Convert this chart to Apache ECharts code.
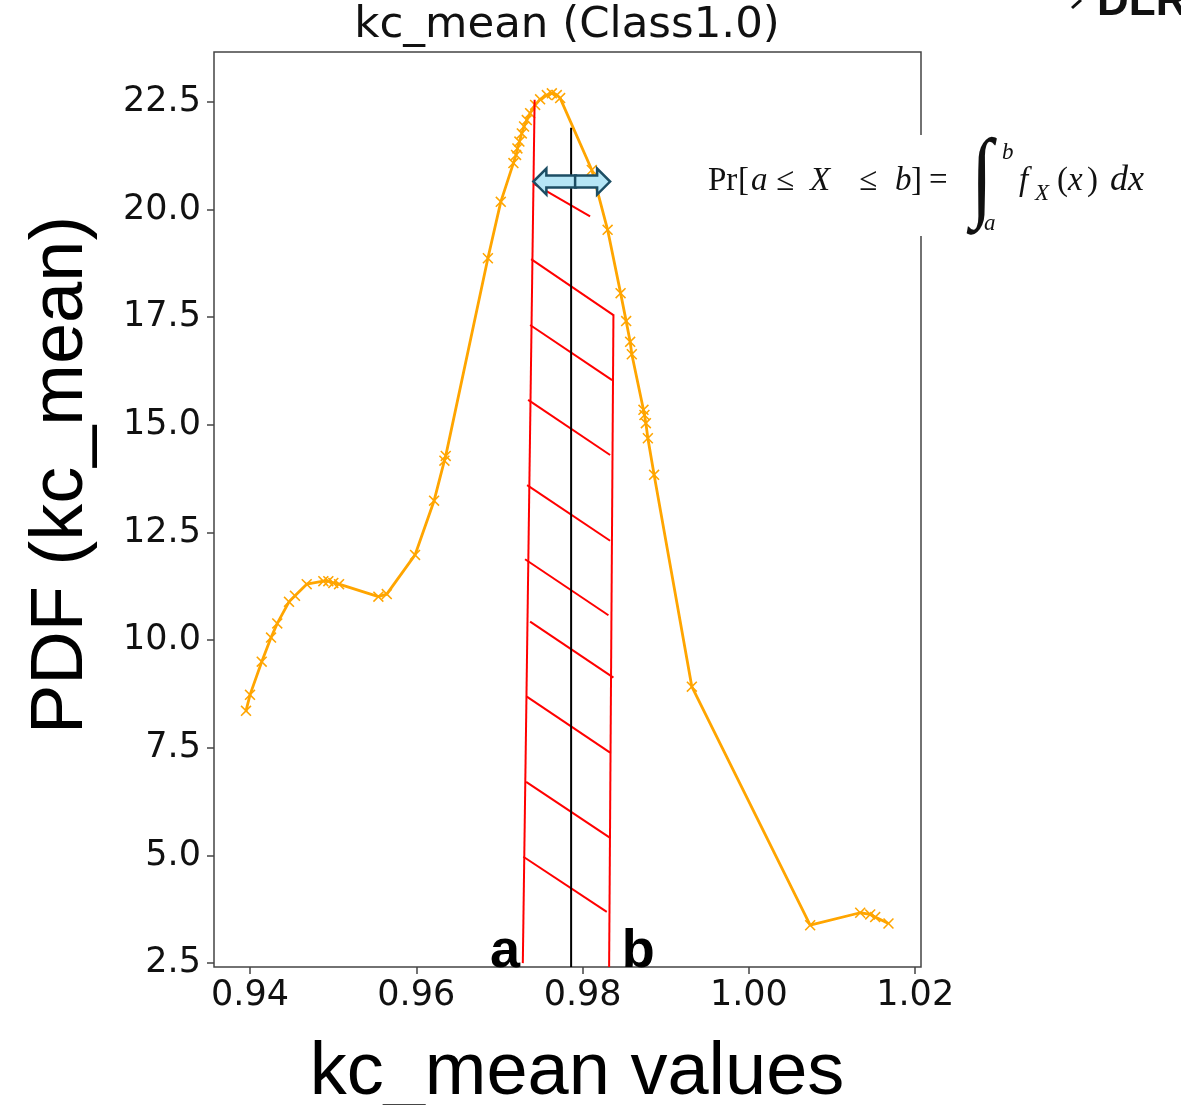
<!DOCTYPE html>
<html>
<head>
<meta charset="utf-8">
<script src="https://cdn.jsdelivr.net/npm/echarts@6/dist/echarts.min.js"></script>
<style>
html,body{margin:0;padding:0;background:#fff;}
#chart{width:1181px;height:1105px;}
</style>
</head>
<body>
<div id="chart"></div>
<script>
// ---- data ----
const kcValues = [0.93952,0.94000,0.94141,0.94253,0.94328,0.94469,0.94541,0.94682,0.94882,0.94942,0.95002,0.95071,0.95544,0.95645,0.95985,0.96214,0.96338,0.96354,0.96861,0.97016,0.97168,0.97200,0.97216,0.97240,0.97269,0.97296,0.97329,0.97369,0.97429,0.97489,0.97570,0.97630,0.97690,0.97730,0.98111,0.98301,0.98457,0.98524,0.98572,0.98592,0.98732,0.98744,0.98761,0.98785,0.98860,0.99314,1.00737,1.01339,1.01459,1.01519,1.01679];
const pdfValues = [8.36,8.73,9.50,10.06,10.39,10.89,11.03,11.30,11.37,11.37,11.33,11.30,11.01,11.07,11.98,13.24,14.17,14.28,18.87,20.18,21.08,21.27,21.42,21.58,21.77,21.93,22.08,22.24,22.43,22.56,22.66,22.70,22.66,22.59,20.92,19.53,18.06,17.41,16.93,16.64,15.35,15.23,15.04,14.69,13.84,8.92,3.38,3.67,3.63,3.57,3.42];
const xTicks = [0.94,0.96,0.98,1.00,1.02];
const yTicks = [2.5,5.0,7.5,10.0,12.5,15.0,17.5,20.0,22.5];

// annotation overlay (data coordinates): [x1, y1, x2, y2]
const boundLines = [
  [0.97423,22.55,0.97281,2.50],   // a
  [0.98371,17.57,0.98319,2.41]    // b
];
const hatchLines = [
  [0.97420,20.59,0.98090,19.84],
  [0.97381,18.85,0.98371,17.55],
  [0.97369,17.32,0.98355,16.04],
  [0.97345,15.58,0.98331,14.30],
  [0.97333,13.60,0.98331,12.31],
  [0.97308,11.88,0.98311,10.58],
  [0.97369,10.43,0.98371,9.13],
  [0.97329,8.69,0.98331,7.39],
  [0.97321,6.71,0.98331,5.41],
  [0.97288,4.97,0.98291,3.69]
];
const centerLine = [[0.97862,21.90,0.97862,2.41]];
// arrows: [xStart, xTip, y]
const arrows = [[0.97920,0.97408,20.65],[0.97910,0.98331,20.65]];
// bound labels: [x, y, text]
const boundLabels = [[0.97068,2.41,'a'],[0.98668,2.41,'b']];

const chart = echarts.init(document.getElementById('chart'));

function segItem(color){
  return function(params, api){
    const p1 = api.coord([api.value(0), api.value(1)]);
    const p2 = api.coord([api.value(2), api.value(3)]);
    return {type:'line', shape:{x1:p1[0],y1:p1[1],x2:p2[0],y2:p2[1]},
            style:{stroke:color, lineWidth:2}};
  };
}

const xMark = 'path://M0,1L1,0L5,4L9,0L10,1L6,5L10,9L9,10L5,6L1,10L0,9L4,5Z';
const tickFont = 'DejaVu Sans';
const serif = 'Liberation Serif';

function fTxt(x, y, text, size, italic, family){
  return {type:'text', x:x, y:y, z:100,
    style:{text:text, font:(italic?'italic ':'')+size+'px "'+(family||serif)+'"',
           fill:'#111', textAlign:'left', textVerticalAlign:'middle'}};
}

const option = {
  animation:false,
  backgroundColor:'#fff',
  grid:{left:214, top:52, right:260, bottom:138, show:true, borderColor:'#444', borderWidth:1.5},
  xAxis:{
    type:'value', min:0.93567, max:1.0207,
    axisLine:{show:false}, splitLine:{show:false},
    axisTick:{show:true, customValues:xTicks, length:7, lineStyle:{color:'#444', width:1.5}},
    axisLabel:{customValues:xTicks, formatter:v=>v.toFixed(2), fontSize:35, fontFamily:tickFont, color:'#111', margin:11}
  },
  yAxis:{
    type:'value', min:2.41, max:23.66,
    axisLine:{show:false}, splitLine:{show:false},
    axisTick:{show:true, customValues:yTicks, length:7, lineStyle:{color:'#444', width:1.5}},
    axisLabel:{customValues:yTicks, formatter:v=>v.toFixed(1), fontSize:35, fontFamily:tickFont, color:'#111', margin:13}
  },
  series:[
    {
      type:'line', name:'PDF',
      data:kcValues.map((x,i)=>[x,pdfValues[i]]),
      symbol:xMark, symbolSize:11, showAllSymbol:true,
      lineStyle:{color:'#FFA500', width:2.8},
      itemStyle:{color:'#FFA500'},
      z:2
    },
    {type:'custom', data:boundLines.concat(hatchLines), renderItem:segItem('#FF0000'), z:5, silent:true},
    {type:'custom', data:centerLine, renderItem:segItem('#000000'), z:5, silent:true},
    {
      type:'custom', data:arrows, z:6, silent:true,
      renderItem:function(params, api){
        const y = api.coord([api.value(0), api.value(2)])[1];
        const x0 = api.coord([api.value(0), api.value(2)])[0];
        const x1 = api.coord([api.value(1), api.value(2)])[0];
        const d = x1 > x0 ? 1 : -1;
        const hx = x1 - d*13;
        return {type:'polygon', shape:{points:[
          [x0,y-6],[hx,y-6],[hx,y-13],[x1,y],[hx,y+13],[hx,y+6],[x0,y+6]]},
          style:{fill:'#B5E6F6', stroke:'#1C4E64', lineWidth:2.5, lineJoin:'miter'}};
      }
    },
    {
      type:'custom', data:boundLabels, z:7, silent:true,
      renderItem:function(params, api){
        const p = api.coord([api.value(0), api.value(1)]);
        return {type:'text', x:p[0], y:p[1]-15,
          style:{text:boundLabels[params.dataIndex][2], font:'bold 54px "Liberation Sans"',
                 fill:'#000', textAlign:'center', textVerticalAlign:'middle'}};
      }
    }
  ],
  graphic:[
    {type:'text', x:567, y:26, style:{text:'kc_mean (Class1.0)', font:'43.5px "DejaVu Sans"', fill:'#111', textAlign:'center', textVerticalAlign:'middle'}},
    {type:'text', x:577, y:1074, style:{text:'kc_mean values', font:'74px "Liberation Sans"', fill:'#000', textAlign:'center', textVerticalAlign:'middle'}},
    {type:'text', x:62, y:475, rotation:Math.PI/2, style:{text:'PDF (kc_mean)', font:'74px "Liberation Sans"', fill:'#000', textAlign:'center', textVerticalAlign:'middle'}},
    {type:'text', x:1097, y:3, style:{text:'DLR', font:'bold 44px "Liberation Sans"', fill:'#111', textAlign:'left', textVerticalAlign:'middle'}},
    {type:'line', shape:{x1:1072,y1:8,x2:1081,y2:0}, style:{stroke:'#111', lineWidth:3}},
    {type:'rect', z:90, shape:{x:700, y:135, width:465, height:101}, style:{fill:'#fff'}},
    fTxt(708,181,'Pr',33,false),
    fTxt(738,181,'[',33,false),
    fTxt(751,181,'a',33,true),
    fTxt(776,181,'≤',33,false),
    fTxt(810,181,'X',33,true),
    fTxt(859,181,'≤',33,false),
    fTxt(895,181,'b',33,true),
    fTxt(911,181,']',33,false),
    fTxt(929,181,'=',33,false),
    {type:'text', x:982, y:182, z:100, scaleY:1.25, style:{text:'∫', font:'italic 80px "Liberation Serif"', fill:'#111', textAlign:'center', textVerticalAlign:'middle'}},
    fTxt(1002,153,'b',23,true),
    fTxt(984,224,'a',23,true),
    fTxt(1019,181,'f',33,true),
    fTxt(1035,194,'X',23,true),
    fTxt(1057,181,'(',33,false),
    fTxt(1068,181,'x',33,true),
    fTxt(1087,181,')',33,false),
    fTxt(1110,181,'dx',36,true)
  ]
};
chart.setOption(option);
</script>
</body>
</html>
